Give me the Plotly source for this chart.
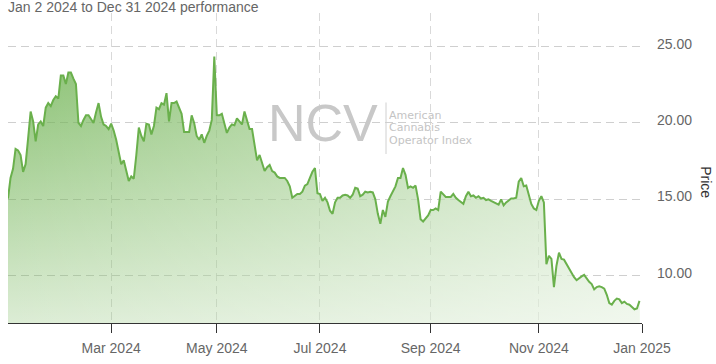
import pandas as pd
import plotly.graph_objects as go

# ---- data (daily closes) ----
holidays_2024 = ["2024-01-01", "2024-01-15", "2024-02-19", "2024-03-29", "2024-05-27",
                 "2024-06-19", "2024-07-04", "2024-09-02", "2024-11-28", "2024-12-25"]

jan = [15.05, 16.4, 17.0, 18.3, 18.2, 17.9, 16.8, 17.3, 19.0, 20.75, 20.1, 18.8, 19.9, 20.1,
       19.8, 21.0, 21.3, 21.1, 21.5, 21.75, 21.6]
feb = [23.1, 23.1, 22.55, 23.3, 23.3, 22.9, 22.55, 20.0, 19.8, 20.2, 20.5, 20.5, 20.2, 20.0,
       20.7, 21.3, 20.4, 19.9, 19.8, 19.6]
mar = [19.95, 19.5, 18.9, 18.1, 17.3, 17.55, 16.8, 16.2, 16.5, 16.35, 17.9, 19.7, 19.15, 18.8,
       19.95, 19.9, 19.25, 19.8, 21.0, 20.9]
apr = [21.3, 21.2, 21.95, 20.1, 21.3, 21.3, 21.4, 21.0, 20.6, 19.4, 19.4, 19.4, 20.5, 20.0,
       19.15, 18.9, 19.25, 18.7, 19.15, 19.5, 20.2, 24.35]
may = [20.5, 20.5, 20.6, 20.0, 19.35, 19.7, 19.9, 19.85, 20.3, 20.1, 19.9, 20.75, 20.2, 19.6,
       19.6, 18.4, 17.55, 17.9, 17.35, 16.85, 17.1, 17.25]
jun = [16.85, 16.75, 16.5, 16.4, 16.4, 16.4, 16.2, 15.85, 15.1, 15.2, 15.35, 15.35, 15.5, 15.9,
       16.0, 16.4, 16.8, 17.05, 15.4]
jul = [15.35, 14.9, 15.1, 14.8, 14.25, 14.05, 14.8, 15.1, 15.1, 15.25, 15.3, 15.25, 15.1, 15.3,
       15.75, 15.7, 15.2, 15.3, 15.5, 15.45, 15.5, 15.45]
aug = [15.0, 14.05, 13.4, 14.3, 13.85, 14.85, 15.2, 15.55, 15.85, 16.4, 16.4, 17.05, 16.6, 15.75,
       15.85, 15.75, 15.9, 15.0, 13.7, 13.55, 13.75, 13.95]
sep = [14.3, 14.3, 14.4, 14.3, 15.5, 15.3, 15.15, 15.15, 15.15, 15.35, 15.1, 14.95, 14.85, 14.7,
       15.2, 15.5, 15.2, 15.25, 15.1, 15.2]
oct_ = [15.05, 15.1, 14.95, 15.0, 14.9, 14.8, 14.7, 14.65, 15.0, 14.6, 14.8, 14.9, 15.05, 15.05,
        15.1, 16.15, 16.4, 15.85, 15.9, 15.3, 14.7, 14.4, 14.3]
nov = [14.9, 15.2, 14.8, 10.75, 11.3, 11.1, 9.25, 10.65, 11.5, 11.1, 11.05, 10.75, 10.4, 10.15,
       9.9, 9.7, 9.85, 9.95, 10.05, 9.8]
dec = [9.6, 9.45, 9.1, 9.25, 9.3, 9.25, 9.15, 8.75, 8.2, 8.1, 8.35, 8.5, 8.45, 8.2, 8.3, 8.15,
       8.1, 7.95, 7.8, 7.85, 8.35]

tick_months = ["2024-03-01", "2024-05-01", "2024-07-01", "2024-09-01", "2024-11-01", "2025-01-01"]
y_ticks = [10, 15, 20, 25]

prices = jan + feb + mar + apr + may + jun + jul + aug + sep + oct_ + nov + dec
bday = pd.offsets.CustomBusinessDay(holidays=holidays_2024)
dates = pd.date_range("2024-01-02", "2024-12-31", freq=bday)
assert len(dates) == len(prices), (len(dates), len(prices))

# tick at the first trading day of each labelled month (month start if no data after it)
tick_vals = []
for m in tick_months:
    t = pd.Timestamp(m)
    later = dates[dates >= t]
    tick_vals.append(later[0] if len(later) and later[0].month == t.month else t)

FONT = "Liberation Sans, Arial, sans-serif"
LINE = "#6ab04c"

fig = go.Figure()
# vertical green gradient
fig.add_trace(go.Scatter(
    x=dates, y=prices, mode="lines", line=dict(width=0, color=LINE),
    fill="tozeroy",
    fillgradient=dict(type="vertical", start=7, stop=25,
                      colorscale=[[0, "rgba(106,176,76,0.22)"], [1, "rgba(106,176,76,0.82)"]]),
    hoverinfo="skip", showlegend=False))
# horizontal fade toward the right
fig.add_trace(go.Scatter(
    x=dates, y=prices, mode="lines", line=dict(width=0, color=LINE),
    fill="tozeroy",
    fillgradient=dict(type="horizontal",
                      colorscale=[[0, "rgba(255,255,255,0)"], [1, "rgba(255,255,255,0.6)"]]),
    hoverinfo="skip", showlegend=False))
# the price line
fig.add_trace(go.Scatter(
    x=dates, y=prices, mode="lines", line=dict(width=2, color=LINE),
    showlegend=False))

grid_dash = "8px,5px"
fig.update_layout(
    width=716, height=364,
    margin=dict(l=8, r=74, t=13, b=32, pad=0),
    paper_bgcolor="white", plot_bgcolor="white",
    font=dict(family=FONT, size=14, color="#666"),
    xaxis=dict(
        type="date",
        range=["2024-01-02", "2025-01-01"],
        rangebreaks=[dict(bounds=["sat", "mon"]), dict(values=holidays_2024)],
        tickvals=tick_vals, tickformat="%b %Y",
        showgrid=True, gridcolor="#d9d9d9", griddash=grid_dash, gridwidth=1,
        showline=True, linecolor="#333", linewidth=1,
        ticks="outside", ticklen=9, tickcolor="#333",
        ticklabelstandoff=3,
        tickfont=dict(size=14, color="#666", family=FONT),
        zeroline=False,
    ),
    yaxis=dict(
        side="right", range=[6.9, 27.2],
        tickvals=y_ticks, tickformat=".2f",
        showgrid=True, gridcolor="#cfcfcf", griddash=grid_dash, gridwidth=1,
        zeroline=False, showline=False, ticks="",
        ticklabelstandoff=14, ticklabelshift=-3,
        tickfont=dict(size=14, color="#666", family=FONT),
    ),
)

def px_x(p):
    return (p - 8) / 634.0

def px_y(p):
    return (331.7 - p) / 318.7

annos = [
    dict(text="Jan 2 2024 to Dec 31 2024 performance", x=px_x(6), y=px_y(6.5),
         xanchor="left", yanchor="middle", font=dict(size=14, color="#666", family=FONT)),
    dict(text="Price", x=px_x(706), y=px_y(187), xanchor="center", yanchor="middle",
         textangle=90, font=dict(size=14, color="#333", family=FONT)),
    dict(text="NCV", x=px_x(323), y=px_y(126), xanchor="center", yanchor="middle",
         font=dict(size=52, color="#c8c8c8", family=FONT)),
]
for txt, yy in [("American", 117.5), ("Cannabis", 130.5), ("Operator Index", 143.5)]:
    annos.append(dict(text=txt, x=px_x(388), y=px_y(yy), xanchor="left", yanchor="middle",
                      height=12, borderpad=0,
                      font=dict(size=11, color="#c4c4c4", family="DejaVu Sans, sans-serif")))
for a in annos:
    a.update(xref="paper", yref="paper", showarrow=False)
fig.update_layout(annotations=annos)
fig.add_shape(type="line", xref="paper", yref="paper",
              x0=px_x(386), x1=px_x(386), y0=px_y(105), y1=px_y(158),
              line=dict(color="#d0d0d0", width=1))

fig.write_html("out.html")
